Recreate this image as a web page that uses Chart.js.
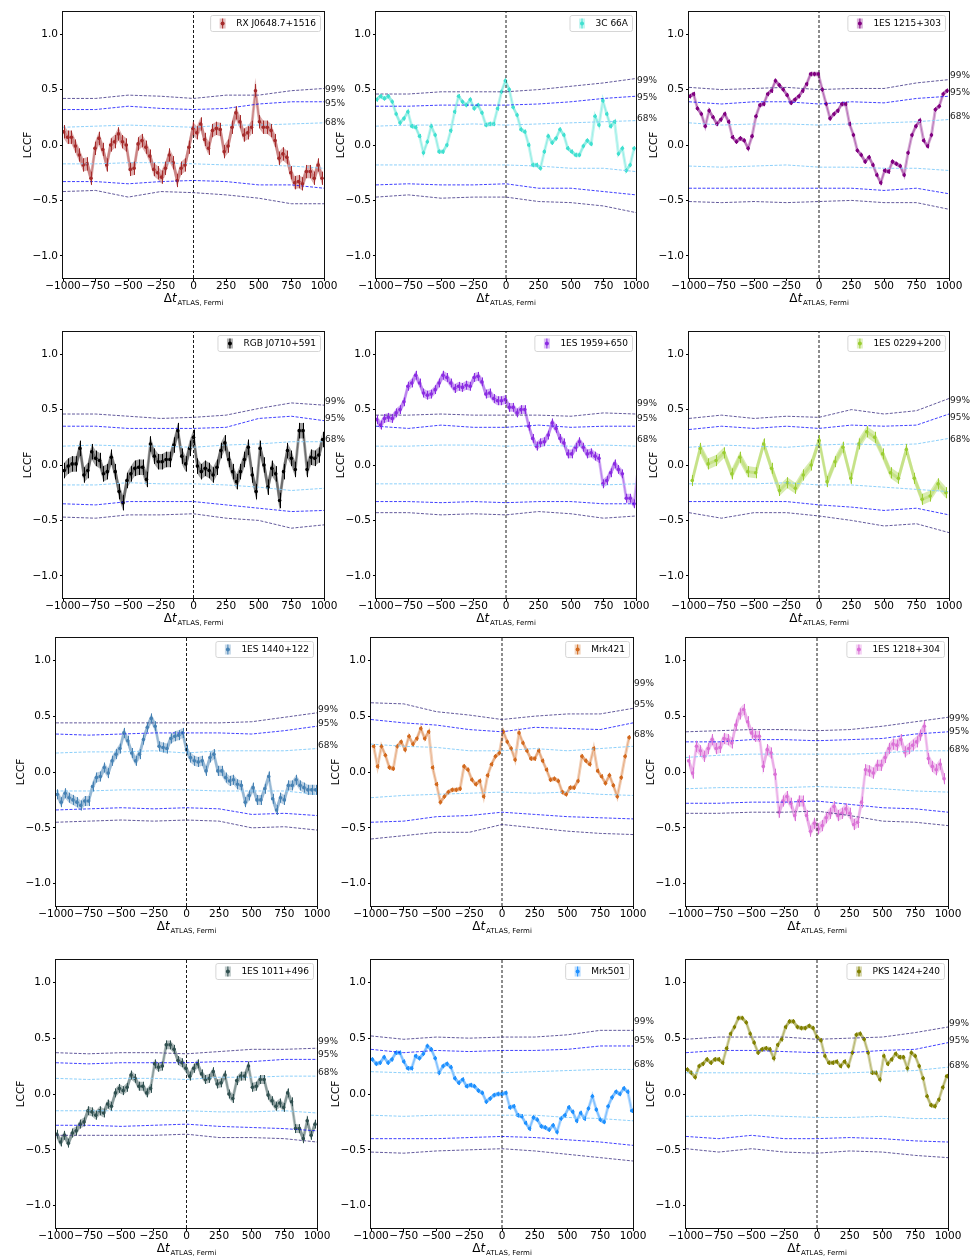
<!DOCTYPE html>
<html>
<head>
<meta charset="utf-8">
<script src="https://cdn.jsdelivr.net/npm/chart.js@4.4.0/dist/chart.umd.min.js"></script>
<style>
  body { margin: 0; background: #fff; width: 973px; height: 1258px; position: relative; overflow: hidden; }
  canvas { position: absolute; }
</style>
</head>
<body>
<script>
// Axis ticks
const LAG_TICKS = [-1000, -750, -500, -250, 0, 250, 500, 750, 1000];
const LCCF_TICKS = [-1.0, -0.5, 0.0, 0.5, 1.0];
// lags where the significance curves were read
const CONF_LAGS = [-1000, -750, -500, -250, 0, 250, 500, 750, 1000];
const CONF_NAMES = ['99%', '95%', '68%'];

// LCCF values per source (one per lag bin)
const RXJ0648_LCCF = [0.12,0.07,0.07,-0.01,-0.09,-0.18,-0.17,-0.30,-0.03,0.06,-0.04,-0.18,0.00,0.03,0.10,0.03,0.00,-0.22,-0.21,0.01,0.04,-0.02,-0.10,-0.22,-0.25,-0.29,-0.21,-0.09,-0.16,-0.32,-0.21,-0.18,-0.02,0.15,0.11,0.19,0.05,-0.03,0.13,0.15,0.14,-0.06,-0.01,0.16,0.29,0.21,0.09,0.11,0.16,0.49,0.21,0.16,0.16,0.13,0.04,-0.12,-0.08,-0.11,-0.25,-0.34,-0.33,-0.35,-0.24,-0.24,-0.30,-0.18,-0.30];
const C3C66A_LCCF = [0.41,0.44,0.42,0.44,0.39,0.28,0.20,0.24,0.30,0.17,0.16,0.08,-0.07,0.03,0.17,0.09,-0.06,-0.06,0.00,0.13,0.30,0.44,0.39,0.36,0.41,0.33,0.36,0.29,0.18,0.19,0.19,0.33,0.48,0.58,0.50,0.34,0.27,0.14,0.12,0.00,-0.18,-0.18,-0.21,-0.06,0.08,0.02,0.06,0.14,0.09,-0.03,-0.06,-0.09,-0.09,-0.01,0.04,0.01,0.26,0.18,0.40,0.28,0.17,0.21,-0.08,-0.03,-0.23,-0.18,-0.03];
const ES1215_LCCF = [0.44,0.46,0.33,0.28,0.17,0.31,0.25,0.19,0.23,0.28,0.21,0.07,0.03,0.06,0.04,-0.03,0.08,0.26,0.36,0.37,0.46,0.49,0.58,0.54,0.50,0.45,0.38,0.41,0.44,0.49,0.55,0.64,0.64,0.64,0.50,0.37,0.24,0.28,0.31,0.37,0.37,0.19,0.09,-0.05,-0.09,-0.15,-0.11,-0.18,-0.27,-0.34,-0.23,-0.24,-0.15,-0.17,-0.19,-0.27,-0.07,0.09,0.17,0.22,0.04,-0.01,0.09,0.32,0.35,0.46,0.49];
const RGB0710_LCCF = [-0.05,-0.01,0.01,0.01,0.15,-0.09,-0.05,0.12,0.06,0.04,-0.08,-0.06,0.07,-0.06,-0.24,-0.34,-0.14,-0.08,-0.03,-0.02,-0.02,-0.13,0.19,0.08,0.03,0.03,0.05,0.05,0.18,0.31,0.08,0.01,0.15,0.25,-0.01,-0.06,-0.03,-0.05,-0.09,-0.02,0.13,0.20,0.05,-0.06,-0.15,-0.06,0.05,0.16,-0.09,-0.24,0.15,0.00,-0.20,-0.03,-0.08,-0.32,-0.06,0.13,0.06,-0.04,0.31,0.31,-0.04,0.07,0.06,0.09,0.23];
const ES1959_LCCF = [0.41,0.36,0.42,0.43,0.42,0.47,0.50,0.57,0.71,0.74,0.81,0.74,0.65,0.63,0.64,0.68,0.74,0.81,0.79,0.74,0.69,0.71,0.70,0.72,0.71,0.79,0.80,0.75,0.64,0.65,0.60,0.58,0.58,0.59,0.52,0.52,0.47,0.50,0.50,0.35,0.24,0.17,0.20,0.21,0.27,0.38,0.33,0.24,0.20,0.10,0.10,0.16,0.21,0.16,0.10,0.11,0.08,0.06,-0.17,-0.14,-0.07,0.01,-0.04,-0.08,-0.30,-0.30,-0.35,-0.05];
const ES0229_LCCF = [-0.14,0.15,0.01,0.04,0.11,-0.08,0.07,-0.06,-0.07,0.19,-0.03,-0.23,-0.16,-0.21,-0.09,0.00,0.22,-0.15,0.03,0.16,-0.12,0.19,0.30,0.25,0.10,-0.07,-0.12,0.14,-0.12,-0.31,-0.28,-0.17,-0.25];
const ES1440_LCCF = [-0.20,-0.27,-0.19,-0.23,-0.25,-0.27,-0.30,-0.26,-0.26,-0.13,-0.05,-0.04,0.04,-0.01,0.10,0.16,0.21,0.35,0.28,0.17,0.10,0.16,0.29,0.40,0.48,0.41,0.23,0.22,0.21,0.30,0.32,0.33,0.35,0.20,0.13,0.10,0.09,0.10,0.01,0.13,0.16,0.01,0.01,-0.05,-0.08,-0.07,-0.11,-0.12,-0.27,-0.21,-0.14,-0.25,-0.25,-0.15,-0.04,-0.24,-0.34,-0.23,-0.25,-0.12,-0.12,-0.07,-0.12,-0.14,-0.16,-0.16,-0.16];
const MRK421_LCCF = [0.23,0.05,0.23,0.15,0.04,0.03,0.23,0.27,0.20,0.32,0.25,0.30,0.39,0.30,0.36,0.04,-0.11,-0.27,-0.22,-0.18,-0.16,-0.16,-0.15,0.05,0.02,-0.07,-0.11,-0.08,-0.22,-0.03,0.07,0.14,0.17,0.36,0.27,0.21,0.11,0.35,0.26,0.19,0.12,0.12,0.19,0.10,0.02,-0.07,-0.06,-0.08,-0.18,-0.20,-0.14,-0.14,-0.08,0.14,0.10,0.07,0.21,0.01,-0.04,-0.10,-0.03,-0.12,-0.22,-0.05,0.14,0.31];
const ES1218_LCCF = [0.10,-0.01,0.23,0.19,0.14,0.21,0.29,0.21,0.22,0.30,0.29,0.26,0.42,0.52,0.56,0.45,0.35,0.32,0.32,0.05,0.20,0.17,-0.02,-0.36,-0.26,-0.22,-0.28,-0.39,-0.26,-0.26,-0.39,-0.53,-0.46,-0.51,-0.48,-0.41,-0.37,-0.31,-0.39,-0.37,-0.33,-0.37,-0.47,-0.45,-0.27,0.02,0.01,-0.01,0.06,0.06,0.13,0.21,0.25,0.24,0.29,0.18,0.21,0.24,0.27,0.33,0.41,0.12,0.05,0.02,0.07,-0.06];
const ES1011_LCCF = [-0.36,-0.43,-0.37,-0.44,-0.35,-0.33,-0.27,-0.25,-0.15,-0.16,-0.19,-0.15,-0.17,-0.09,-0.11,0.01,0.05,0.03,0.06,0.17,0.14,0.07,0.07,0.01,0.05,0.27,0.24,0.25,0.44,0.44,0.40,0.30,0.28,0.23,0.16,0.23,0.27,0.18,0.13,0.14,0.20,0.09,0.10,0.17,0.00,-0.04,0.12,0.16,0.16,0.25,0.06,0.07,0.13,0.13,-0.01,-0.06,-0.11,-0.08,-0.12,0.01,-0.07,-0.31,-0.31,-0.40,-0.24,-0.37,-0.27];
const MRK501_LCCF = [0.31,0.27,0.28,0.33,0.28,0.31,0.37,0.37,0.29,0.23,0.23,0.34,0.32,0.36,0.43,0.40,0.32,0.19,0.25,0.27,0.24,0.14,0.10,0.13,0.07,0.08,0.07,0.03,0.01,-0.07,-0.04,-0.01,0.00,0.00,0.01,-0.12,-0.11,-0.19,-0.20,-0.26,-0.31,-0.21,-0.23,-0.29,-0.30,-0.32,-0.28,-0.34,-0.22,-0.19,-0.12,-0.16,-0.24,-0.17,-0.22,-0.13,-0.02,-0.14,-0.23,-0.25,-0.11,-0.03,0.02,0.00,0.05,0.02,-0.15];
const PKS1424_LCCF = [0.22,0.19,0.15,0.25,0.27,0.31,0.28,0.31,0.31,0.28,0.41,0.54,0.60,0.68,0.68,0.64,0.54,0.46,0.37,0.40,0.41,0.40,0.32,0.44,0.49,0.60,0.65,0.65,0.60,0.59,0.59,0.61,0.59,0.51,0.48,0.34,0.28,0.28,0.29,0.25,0.29,0.25,0.37,0.53,0.54,0.49,0.37,0.19,0.19,0.13,0.34,0.27,0.31,0.36,0.33,0.33,0.23,0.37,0.34,0.25,0.14,-0.02,-0.10,-0.11,-0.05,0.06,0.16];

// significance curves: [+99, +95, +68, -68, -95, -99]
const RXJ0648_CONF = [
  [0.42,0.42,0.45,0.44,0.42,0.45,0.45,0.49,0.51], [0.32,0.32,0.35,0.33,0.32,0.33,0.37,0.39,0.39], [0.16,0.17,0.18,0.17,0.16,0.18,0.18,0.19,0.20],
  [-0.17,-0.17,-0.16,-0.16,-0.17,-0.18,-0.18,-0.19,-0.21], [-0.33,-0.33,-0.35,-0.33,-0.32,-0.33,-0.36,-0.36,-0.39], [-0.42,-0.41,-0.47,-0.42,-0.43,-0.45,-0.48,-0.53,-0.53]];
const C3C66A_CONF = [
  [0.46,0.46,0.48,0.48,0.48,0.50,0.53,0.56,0.60], [0.35,0.35,0.36,0.36,0.36,0.37,0.39,0.42,0.44], [0.17,0.18,0.18,0.19,0.18,0.19,0.20,0.21,0.22],
  [-0.18,-0.18,-0.18,-0.18,-0.18,-0.19,-0.21,-0.21,-0.24], [-0.36,-0.35,-0.36,-0.36,-0.35,-0.39,-0.39,-0.42,-0.45], [-0.47,-0.45,-0.48,-0.47,-0.47,-0.51,-0.52,-0.55,-0.61]];
const ES1215_CONF = [
  [0.52,0.50,0.51,0.52,0.50,0.51,0.51,0.56,0.59], [0.39,0.37,0.39,0.39,0.37,0.39,0.38,0.42,0.44], [0.20,0.18,0.19,0.19,0.18,0.19,0.20,0.21,0.23],
  [-0.19,-0.20,-0.19,-0.18,-0.20,-0.20,-0.21,-0.21,-0.23], [-0.39,-0.39,-0.39,-0.39,-0.39,-0.39,-0.41,-0.39,-0.44], [-0.51,-0.52,-0.51,-0.52,-0.51,-0.50,-0.52,-0.52,-0.58]];
const RGB0710_CONF = [
  [0.46,0.46,0.44,0.42,0.43,0.45,0.51,0.56,0.54], [0.35,0.35,0.33,0.33,0.33,0.34,0.42,0.44,0.40], [0.17,0.18,0.17,0.17,0.16,0.18,0.19,0.21,0.21],
  [-0.18,-0.18,-0.16,-0.17,-0.17,-0.18,-0.20,-0.23,-0.21], [-0.35,-0.36,-0.33,-0.33,-0.33,-0.36,-0.39,-0.42,-0.41], [-0.47,-0.48,-0.45,-0.45,-0.44,-0.48,-0.50,-0.57,-0.54]];
const ES1959_CONF = [
  [0.45,0.45,0.46,0.45,0.45,0.45,0.44,0.47,0.46], [0.35,0.33,0.36,0.34,0.34,0.36,0.34,0.35,0.35], [0.17,0.17,0.18,0.18,0.17,0.18,0.17,0.18,0.17],
  [-0.17,-0.17,-0.17,-0.17,-0.17,-0.17,-0.17,-0.18,-0.17], [-0.33,-0.33,-0.34,-0.33,-0.34,-0.33,-0.33,-0.35,-0.35], [-0.43,-0.43,-0.45,-0.44,-0.45,-0.42,-0.44,-0.48,-0.46]];
const ES0229_CONF = [
  [0.42,0.45,0.42,0.44,0.43,0.50,0.46,0.49,0.60], [0.32,0.35,0.33,0.35,0.33,0.36,0.35,0.36,0.46], [0.16,0.18,0.17,0.16,0.18,0.19,0.18,0.19,0.24],
  [-0.17,-0.17,-0.17,-0.16,-0.18,-0.18,-0.20,-0.22,-0.24], [-0.33,-0.33,-0.33,-0.33,-0.36,-0.38,-0.41,-0.39,-0.45], [-0.43,-0.48,-0.43,-0.43,-0.46,-0.50,-0.55,-0.53,-0.61]];
const ES1440_CONF = [
  [0.44,0.44,0.44,0.44,0.44,0.44,0.45,0.49,0.53], [0.34,0.33,0.34,0.35,0.35,0.35,0.34,0.37,0.41], [0.17,0.18,0.18,0.19,0.17,0.19,0.19,0.19,0.21],
  [-0.17,-0.17,-0.16,-0.16,-0.16,-0.17,-0.17,-0.17,-0.20], [-0.34,-0.33,-0.32,-0.33,-0.32,-0.33,-0.38,-0.37,-0.39], [-0.45,-0.44,-0.43,-0.44,-0.43,-0.44,-0.50,-0.49,-0.52]];
const MRK421_CONF = [
  [0.62,0.61,0.54,0.51,0.47,0.50,0.52,0.52,0.57], [0.47,0.44,0.42,0.38,0.36,0.40,0.39,0.38,0.44], [0.25,0.23,0.22,0.19,0.19,0.21,0.19,0.21,0.23],
  [-0.23,-0.21,-0.20,-0.19,-0.18,-0.19,-0.18,-0.20,-0.21], [-0.45,-0.44,-0.40,-0.39,-0.36,-0.38,-0.40,-0.41,-0.42], [-0.60,-0.57,-0.54,-0.54,-0.47,-0.50,-0.53,-0.55,-0.56]];
const ES1218_CONF = [
  [0.36,0.37,0.38,0.38,0.37,0.38,0.41,0.45,0.49], [0.27,0.27,0.29,0.29,0.28,0.29,0.30,0.34,0.36], [0.13,0.15,0.16,0.16,0.16,0.16,0.17,0.19,0.19],
  [-0.15,-0.14,-0.14,-0.14,-0.13,-0.14,-0.15,-0.17,-0.18], [-0.28,-0.28,-0.27,-0.27,-0.26,-0.29,-0.32,-0.33,-0.36], [-0.37,-0.37,-0.36,-0.36,-0.35,-0.39,-0.44,-0.45,-0.48]];
const ES1011_CONF = [
  [0.37,0.36,0.37,0.37,0.36,0.38,0.40,0.40,0.41], [0.28,0.27,0.28,0.28,0.28,0.29,0.29,0.31,0.31], [0.14,0.13,0.14,0.14,0.13,0.15,0.15,0.16,0.16],
  [-0.15,-0.15,-0.15,-0.15,-0.15,-0.16,-0.16,-0.15,-0.17], [-0.28,-0.28,-0.29,-0.28,-0.27,-0.29,-0.30,-0.31,-0.33], [-0.37,-0.37,-0.37,-0.37,-0.36,-0.39,-0.39,-0.40,-0.43]];
const MRK501_CONF = [
  [0.52,0.49,0.51,0.50,0.51,0.51,0.53,0.57,0.57], [0.40,0.37,0.39,0.38,0.39,0.39,0.40,0.43,0.43], [0.20,0.19,0.19,0.19,0.19,0.20,0.21,0.22,0.22],
  [-0.19,-0.20,-0.19,-0.19,-0.19,-0.19,-0.21,-0.22,-0.24], [-0.40,-0.40,-0.40,-0.39,-0.38,-0.39,-0.41,-0.43,-0.46], [-0.52,-0.53,-0.51,-0.50,-0.49,-0.51,-0.54,-0.57,-0.60]];
const PKS1424_CONF = [
  [0.49,0.51,0.51,0.51,0.49,0.50,0.51,0.55,0.60], [0.37,0.39,0.39,0.38,0.37,0.37,0.39,0.40,0.46], [0.19,0.19,0.19,0.19,0.18,0.19,0.20,0.21,0.24],
  [-0.20,-0.20,-0.19,-0.20,-0.21,-0.21,-0.20,-0.22,-0.22], [-0.38,-0.40,-0.37,-0.40,-0.40,-0.39,-0.40,-0.42,-0.43], [-0.49,-0.52,-0.49,-0.52,-0.53,-0.51,-0.52,-0.55,-0.57]];

// where the 99/95/68 % tags sit (LCCF units)
const RXJ0648_TAGS = [0.50, 0.37, 0.20];
const C3C66A_TAGS = [0.58, 0.43, 0.24];
const ES1215_TAGS = [0.63, 0.47, 0.26];
const RGB0710_TAGS = [0.57, 0.42, 0.23];
const ES1959_TAGS = [0.55, 0.42, 0.23];
const ES0229_TAGS = [0.58, 0.43, 0.23];
const ES1440_TAGS = [0.56, 0.43, 0.24];
const MRK421_TAGS = [0.79, 0.60, 0.33];
const ES1218_TAGS = [0.48, 0.36, 0.20];
const ES1011_TAGS = [0.47, 0.35, 0.19];
const MRK501_TAGS = [0.65, 0.48, 0.26];
const PKS1424_TAGS = [0.63, 0.48, 0.25];

const FONT = '"DejaVu Sans", sans-serif';
const PAD_L = 50, PAD_T = 10, PAD_R = 40, PAD_B = 36;
const CONF_COLORS = ['rgba(72,61,139,0.85)', 'rgba(0,0,255,0.75)', 'rgba(135,206,250,0.95)',
                     'rgba(135,206,250,0.95)', 'rgba(0,0,255,0.75)', 'rgba(72,61,139,0.85)'];

// x, y, w, h = plot area in page pixels
const PANELS = [
  { name: 'RX J0648.7+1516', lccf: RXJ0648_LCCF, conf: RXJ0648_CONF, tags: RXJ0648_TAGS, start: -995, step: 30, err: 0.06, color: '#a52a2a', x: 63, y: 12, w: 261, h: 266 },
  { name: '3C 66A', lccf: C3C66A_LCCF, conf: C3C66A_CONF, tags: C3C66A_TAGS, start: -995, step: 30, err: 0.02, color: '#40e0d0', x: 376, y: 12, w: 260, h: 266 },
  { name: '1ES 1215+303', lccf: ES1215_LCCF, conf: ES1215_CONF, tags: ES1215_TAGS, start: -995, step: 30, err: 0.02, color: '#800080', x: 689, y: 12, w: 260, h: 266 },
  { name: 'RGB J0710+591', lccf: RGB0710_LCCF, conf: RGB0710_CONF, tags: RGB0710_TAGS, start: -990, step: 30, err: 0.07, color: '#000000', x: 63, y: 332, w: 261, h: 266 },
  { name: '1ES 1959+650', lccf: ES1959_LCCF, conf: ES1959_CONF, tags: ES1959_TAGS, start: -995, step: 30, err: 0.04, color: '#8a2be2', x: 376, y: 332, w: 260, h: 266 },
  { name: '1ES 0229+200', lccf: ES0229_LCCF, conf: ES0229_CONF, tags: ES0229_TAGS, start: -975, step: 61, err: 0.05, color: '#9acd32', x: 689, y: 332, w: 260, h: 266 },
  { name: '1ES 1440+122', lccf: ES1440_LCCF, conf: ES1440_CONF, tags: ES1440_TAGS, start: -990, step: 30, err: 0.045, color: '#4682b4', x: 56, y: 638, w: 261, h: 268 },
  { name: 'Mrk421', lccf: MRK421_LCCF, conf: MRK421_CONF, tags: MRK421_TAGS, start: -980, step: 30, err: 0.02, color: '#d2691e', x: 371, y: 638, w: 262, h: 268 },
  { name: '1ES 1218+304', lccf: ES1218_LCCF, conf: ES1218_CONF, tags: ES1218_TAGS, start: -980, step: 30, err: 0.05, color: '#da70d6', x: 686, y: 638, w: 262, h: 268 },
  { name: '1ES 1011+496', lccf: ES1011_LCCF, conf: ES1011_CONF, tags: ES1011_TAGS, start: -995, step: 30, err: 0.04, color: '#2f4f4f', x: 56, y: 960, w: 261, h: 268 },
  { name: 'Mrk501', lccf: MRK501_LCCF, conf: MRK501_CONF, tags: MRK501_TAGS, start: -990, step: 30, err: 0.02, color: '#1e90ff', x: 371, y: 960, w: 262, h: 268 },
  { name: 'PKS 1424+240', lccf: PKS1424_LCCF, conf: PKS1424_CONF, tags: PKS1424_TAGS, start: -990, step: 30, err: 0.02, color: '#808000', x: 686, y: 960, w: 262, h: 268 },
];

function rgba(hex, a) {
  const n = parseInt(hex.slice(1), 16);
  return `rgba(${n >> 16},${(n >> 8) & 255},${n & 255},${a})`;
}
const minus = s => String(s).replace('-', '\u2212');

function decoPlugin(p, lags) {
  return {
    id: 'deco',
    afterDatasetsDraw(chart) {
      const { ctx, chartArea: a, scales: { x, y } } = chart;
      ctx.save();
      ctx.beginPath(); ctx.rect(a.left, a.top, a.width, a.height); ctx.clip();
      ctx.strokeStyle = p.color; ctx.lineWidth = 1;
      p.lccf.forEach((v, i) => {
        const px = Math.round(x.getPixelForValue(lags[i])) + 0.5;
        ctx.beginPath();
        ctx.moveTo(px, y.getPixelForValue(v - p.err));
        ctx.lineTo(px, y.getPixelForValue(v + p.err));
        ctx.stroke();
      });
      ctx.restore();
    },
    afterDraw(chart) {
      const { ctx, chartArea: a, scales: { y } } = chart;
      ctx.save();
      // frame
      ctx.strokeStyle = '#111'; ctx.lineWidth = 1;
      ctx.strokeRect(a.left - 0.5, a.top - 0.5, a.width + 1, a.height + 1);

      // legend
      ctx.font = `9px ${FONT}`;
      const tw = ctx.measureText(p.name).width;
      const bw = tw + 30, bh = 16;
      const bx = a.right - 4 - bw, by = a.top + 3;
      ctx.fillStyle = 'rgba(255,255,255,0.85)';
      ctx.strokeStyle = '#d6d6d6';
      ctx.beginPath(); ctx.roundRect(bx + 0.5, by + 0.5, bw, bh, 2); ctx.fill(); ctx.stroke();
      const mx = bx + 12.5, my = by + 8.5;
      ctx.fillStyle = rgba(p.color, 0.3);
      ctx.fillRect(mx - 3, my - 5, 6, 10);
      ctx.strokeStyle = p.color;
      ctx.beginPath(); ctx.moveTo(mx, my - 5); ctx.lineTo(mx, my + 5); ctx.stroke();
      ctx.fillStyle = p.color;
      ctx.beginPath(); ctx.arc(mx, my, 2, 0, Math.PI * 2); ctx.fill();
      ctx.fillStyle = '#000'; ctx.textBaseline = 'middle'; ctx.textAlign = 'left';
      ctx.fillText(p.name, bx + 26, my);

      // significance tags
      ctx.fillStyle = '#222';
      p.tags.forEach((v, k) => ctx.fillText(CONF_NAMES[k], a.right + 1, y.getPixelForValue(v)));

      // y title
      ctx.font = `10.5px ${FONT}`;
      ctx.fillStyle = '#000';
      ctx.translate(a.left - 35, (a.top + a.bottom) / 2);
      ctx.rotate(-Math.PI / 2);
      ctx.textAlign = 'center';
      ctx.fillText('LCCF', 0, 0);
      ctx.setTransform(1, 0, 0, 1, 0, 0);

      // x title: Δt_{ATLAS, Fermi}
      const fMain = `12px ${FONT}`, fIt = `italic 12px ${FONT}`, fSub = `7px ${FONT}`;
      ctx.textAlign = 'left'; ctx.textBaseline = 'alphabetic';
      ctx.font = fMain; const w1 = ctx.measureText('\u0394').width;
      ctx.font = fIt; const w2 = ctx.measureText('t').width;
      ctx.font = fSub; const w3 = ctx.measureText('ATLAS, Fermi').width;
      let tx = (a.left + a.right) / 2 - (w1 + w2 + 1 + w3) / 2;
      const ty = a.bottom + 23.5;
      ctx.font = fMain; ctx.fillText('\u0394', tx, ty); tx += w1;
      ctx.font = fIt; ctx.fillText('t', tx, ty); tx += w2 + 1;
      ctx.font = fSub; ctx.fillText('ATLAS, Fermi', tx, ty + 3);
      ctx.restore();
    }
  };
}

function makePanel(p) {
  const cv = document.createElement('canvas');
  const W = p.w + PAD_L + PAD_R, H = p.h + PAD_T + PAD_B;
  cv.width = W; cv.height = H;
  cv.style.left = (p.x - PAD_L) + 'px';
  cv.style.top = (p.y - PAD_T) + 'px';
  cv.style.width = W + 'px';
  cv.style.height = H + 'px';
  document.body.appendChild(cv);

  const lags = p.lccf.map((_, i) => p.start + i * p.step);
  const datasets = p.conf.map((arr, k) => ({
    data: CONF_LAGS.map((lag, i) => ({ x: lag, y: arr[i] })),
    borderColor: CONF_COLORS[k], borderWidth: 1, borderDash: [3, 1.5], pointRadius: 0, fill: false,
  }));
  datasets.push({
    data: [{ x: 0, y: -1.2 }, { x: 0, y: 1.2 }],
    borderColor: '#000', borderWidth: 0.9, borderDash: [3, 2], pointRadius: 0, fill: false,
  });
  datasets.push({
    data: p.lccf.map((v, i) => ({ x: lags[i], y: v - p.err })),
    borderWidth: 0, pointRadius: 0, fill: false,
  });
  datasets.push({
    data: p.lccf.map((v, i) => ({ x: lags[i], y: v + p.err })),
    borderWidth: 0, pointRadius: 0, fill: '-1', backgroundColor: rgba(p.color, 0.38),
  });
  datasets.push({
    data: p.lccf.map((v, i) => ({ x: lags[i], y: v })),
    borderColor: rgba(p.color, 0.32), borderWidth: 3, pointRadius: 1.8,
    pointBackgroundColor: p.color, pointBorderWidth: 0, fill: false,
  });

  const tickFont = { size: 10.5, family: FONT };
  new Chart(cv, {
    type: 'line',
    data: { datasets },
    options: {
      responsive: false, animation: false, devicePixelRatio: 1,
      layout: { padding: { left: 0, top: PAD_T, right: PAD_R, bottom: 0 } },
      plugins: { legend: { display: false }, tooltip: { enabled: false } },
      scales: {
        x: {
          type: 'linear', min: -1000, max: 1000,
          afterBuildTicks: s => { s.ticks = LAG_TICKS.map(v => ({ value: v })); },
          afterFit: s => { s.height = PAD_B; },
          ticks: { callback: v => minus(v), color: '#000', font: tickFont, padding: -1, maxRotation: 0, autoSkip: false },
          grid: { drawOnChartArea: false, drawTicks: true, tickLength: 3, color: '#000' },
          border: { display: false },
        },
        y: {
          type: 'linear', min: -1.2, max: 1.2,
          afterBuildTicks: s => { s.ticks = LCCF_TICKS.map(v => ({ value: v })); },
          afterFit: s => { s.width = PAD_L; },
          ticks: { callback: v => minus(v.toFixed(1)), color: '#000', font: tickFont, padding: 2 },
          grid: { drawOnChartArea: false, drawTicks: true, tickLength: 3, color: '#000' },
          border: { display: false },
        },
      },
    },
    plugins: [decoPlugin(p, lags)],
  });
}

PANELS.forEach(makePanel);
</script>
</body>
</html>
